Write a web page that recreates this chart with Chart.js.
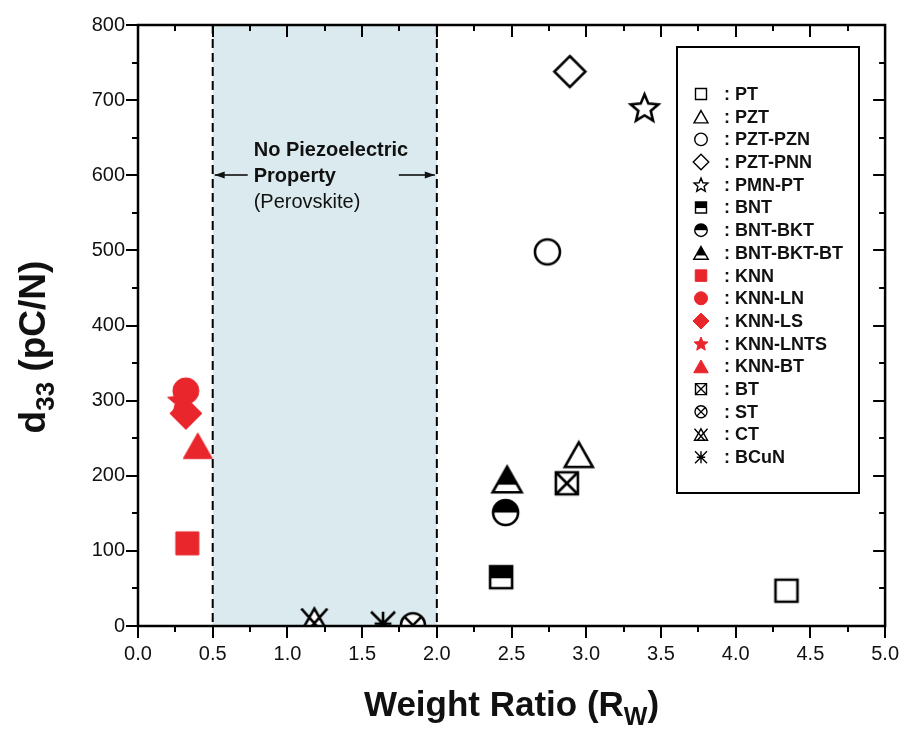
<!DOCTYPE html>
<html>
<head>
<meta charset="utf-8">
<script src="https://cdn.jsdelivr.net/npm/chart.js@4"></script>
<style>
  html, body { margin: 0; padding: 0; background: #fff; }
  #wrap { width: 915px; height: 752px; }
</style>
</head>
<body>
<div id="wrap"><canvas id="grafica" width="915" height="752"></canvas></div>
<script>
// Datos: material, relacion de peso (Rw) y d33 (pC/N).
const materials   = ['PT', 'PZT', 'PZT-PZN', 'PZT-PNN', 'PMN-PT', 'BNT', 'BNT-BKT', 'BNT-BKT-BT',
                     'KNN', 'KNN-LN', 'KNN-LS', 'KNN-LNTS', 'KNN-BT', 'BT', 'ST', 'CT', 'BCuN'];
const weightRatio = [4.34, 2.95, 2.74, 2.89, 3.39, 2.43, 2.46, 2.47,
                     0.33, 0.32, 0.32, 0.29, 0.40, 2.87, 1.84, 1.18, 1.64];
const d33         = [47, 228, 498, 738, 690, 65, 151, 195,
                     110, 313, 283, 300, 240, 190, 1, 8, 3];

// Zona sin propiedad piezoelectrica (perovskita).
const noPiezoRange = [0.5, 2.0];

// Ejes.
const xMin = 0, xMax = 5, xStep = 0.5, xMinor = 0.25;
const yMin = 0, yMax = 800, yStep = 100, yMinor = 50;

// Estilo de cada marcador (mismo orden que materials).
const RED = '#e8262c';
const markerKinds = ['sq', 'tri', 'circ', 'dia', 'star', 'sqHalf', 'circHalf', 'triHalf',
                     'sq', 'circ', 'dia', 'star', 'tri', 'sqX', 'circX', 'triX', 'ast'];
const markerFill  = [null, null, null, null, null, null, null, null,
                     RED, RED, RED, RED, RED, null, null, null, null];
const markerSize  = { sq: 22, tri: 28, circ: 25, dia: 31, star: 29, sqHalf: 22, circHalf: 25, triHalf: 29,
                      sqX: 22, circX: 24, triX: 26, ast: 24 };
const redSize     = { sq: 23, circ: 26, dia: 32, star: 29, tri: 29 };

const FONT = 'Arial, "Liberation Sans", Helvetica, sans-serif';

// Dibuja un simbolo centrado en (cx, cy) con ancho nominal s.
function drawSymbol(ctx, kind, cx, cy, s, lw, fill) {
    const r = s / 2;
    ctx.save();
    ctx.lineWidth = lw;
    ctx.strokeStyle = fill || '#000';
    ctx.lineJoin = 'miter';
    const path = new Path2D();
    const base = kind.replace('Half', '').replace('X', '');
    if (base === 'sq') {
        path.rect(cx - r, cy - r, s, s);
    } else if (base === 'tri') {
        const h = s * 0.88;
        path.moveTo(cx, cy - h / 2);
        path.lineTo(cx + r, cy + h / 2);
        path.lineTo(cx - r, cy + h / 2);
        path.closePath();
    } else if (base === 'circ') {
        path.arc(cx, cy, r, 0, Math.PI * 2);
    } else if (base === 'dia') {
        path.moveTo(cx, cy - r);
        path.lineTo(cx + r, cy);
        path.lineTo(cx, cy + r);
        path.lineTo(cx - r, cy);
        path.closePath();
    } else if (base === 'star') {
        const ri = r * 0.45;
        for (let i = 0; i < 10; i++) {
            const a = -Math.PI / 2 + i * Math.PI / 5;
            const rr = i % 2 === 0 ? r : ri;
            const px = cx + rr * Math.cos(a), py = cy + rr * Math.sin(a) + r * 0.08;
            if (i === 0) path.moveTo(px, py); else path.lineTo(px, py);
        }
        path.closePath();
    }

    if (kind === 'ast') {
        ctx.beginPath();
        ctx.moveTo(cx - r, cy - r); ctx.lineTo(cx + r, cy + r);
        ctx.moveTo(cx + r, cy - r); ctx.lineTo(cx - r, cy + r);
        ctx.moveTo(cx, cy - r); ctx.lineTo(cx, cy + r);
        ctx.moveTo(cx - r * 0.7, cy); ctx.lineTo(cx + r * 0.7, cy);
        ctx.stroke();
        ctx.restore();
        return;
    }

    if (fill) {
        ctx.fillStyle = fill;
        ctx.fill(path);
        ctx.stroke(path);
    } else {
        ctx.fillStyle = '#fff';
        ctx.fill(path);
        if (kind.endsWith('Half')) {
            // mitad superior rellena en negro
            ctx.save();
            ctx.clip(path);
            ctx.fillStyle = '#000';
            let cut = cy;
            if (kind === 'triHalf') cut = cy + s * 0.88 * 0.2;
            if (kind === 'sqHalf') cut = cy + s * 0.05;
            ctx.fillRect(cx - s, cy - s, 2 * s, cut - (cy - s));
            ctx.restore();
        }
        ctx.stroke(path);
        if (kind.endsWith('X')) {
            ctx.beginPath();
            if (kind === 'sqX') {
                ctx.moveTo(cx - r, cy - r); ctx.lineTo(cx + r, cy + r);
                ctx.moveTo(cx + r, cy - r); ctx.lineTo(cx - r, cy + r);
            } else if (kind === 'circX') {
                const k = r * 0.72;
                ctx.moveTo(cx - k, cy - k); ctx.lineTo(cx + k, cy + k);
                ctx.moveTo(cx + k, cy - k); ctx.lineTo(cx - k, cy + k);
            } else {
                const h = s * 0.88;
                ctx.moveTo(cx - r, cy - h / 2); ctx.lineTo(cx + r * 0.55, cy + h / 2);
                ctx.moveTo(cx + r, cy - h / 2); ctx.lineTo(cx - r * 0.55, cy + h / 2);
            }
            ctx.stroke();
        }
    }
    ctx.restore();
}

// Crea un canvas con el simbolo para usarlo como pointStyle.
function makeMarker(kind, s, lw, fill) {
    const c = document.createElement('canvas');
    const size = Math.ceil(s + lw * 2 + 4);
    c.width = size; c.height = size;
    drawSymbol(c.getContext('2d'), kind, size / 2, size / 2, s, lw, fill);
    return c;
}

function sizeFor(i) {
    const k = markerKinds[i];
    return markerFill[i] ? redSize[k] : markerSize[k];
}

const datasets = materials.map((m, i) => ({
    label: m,
    data: [{ x: weightRatio[i], y: d33[i] }],
    pointStyle: makeMarker(markerKinds[i], sizeFor(i), markerFill[i] ? 1 : 2.6, markerFill[i]),
    clip: 0
}));

// Zona sombreada, lineas discontinuas y anotacion.
const regionPlugin = {
    id: 'region',
    beforeDatasetsDraw(chart) {
        const ctx = chart.ctx;
        const { top, bottom } = chart.chartArea;
        const xs = chart.scales.x;
        const x0 = xs.getPixelForValue(noPiezoRange[0]);
        const x1 = xs.getPixelForValue(noPiezoRange[1]);
        ctx.save();
        ctx.fillStyle = '#daeaee';
        ctx.fillRect(x0, top, x1 - x0, bottom - top);
        ctx.strokeStyle = '#000';
        ctx.lineWidth = 2;
        ctx.setLineDash([9, 5]);
        [x0, x1].forEach(x => {
            ctx.beginPath();
            ctx.moveTo(x, top);
            ctx.lineTo(x, bottom);
            ctx.stroke();
        });
        ctx.setLineDash([]);

        // texto
        ctx.fillStyle = '#111';
        ctx.textBaseline = 'alphabetic';
        ctx.textAlign = 'left';
        const tx = x0 + 41;
        ctx.font = 'bold 20px ' + FONT;
        ctx.fillText('No Piezoelectric', tx, top + 131);
        ctx.fillText('Property', tx, top + 157);
        ctx.font = '20px ' + FONT;
        ctx.fillText('(Perovskite)', tx, top + 183);

        // flechas
        const ay = top + 150;
        const arrow = (xa, xb) => {
            ctx.lineWidth = 1.6;
            ctx.beginPath();
            ctx.moveTo(xa, ay);
            ctx.lineTo(xb, ay);
            ctx.stroke();
            const d = Math.sign(xb - xa);
            ctx.beginPath();
            ctx.moveTo(xb, ay);
            ctx.lineTo(xb - d * 10, ay - 3.5);
            ctx.lineTo(xb - d * 10, ay + 3.5);
            ctx.closePath();
            ctx.fill();
        };
        arrow(x0 + 35, x0 + 2);
        arrow(x1 - 38, x1 - 2);
        ctx.restore();
    }
};

// Marco, marcas de los ejes, titulos y leyenda.
const framePlugin = {
    id: 'frame',
    afterDatasetsDraw(chart) {
        const ctx = chart.ctx;
        const { left, right, top, bottom } = chart.chartArea;
        const xs = chart.scales.x, ys = chart.scales.y;
        ctx.save();
        ctx.strokeStyle = '#000';
        ctx.lineWidth = 2.5;
        ctx.strokeRect(left, top, right - left, bottom - top);

        ctx.lineWidth = 2;
        ctx.beginPath();
        for (let v = xMin; v <= xMax + 1e-9; v += xMinor) {
            const major = Math.abs(v / xStep - Math.round(v / xStep)) < 1e-6;
            const len = major ? 12 : 6;
            const px = Math.round(xs.getPixelForValue(v));
            ctx.moveTo(px, bottom); ctx.lineTo(px, bottom + len);
            ctx.moveTo(px, top); ctx.lineTo(px, top + len);
        }
        for (let v = yMin; v <= yMax + 1e-9; v += yMinor) {
            const major = Math.abs(v / yStep - Math.round(v / yStep)) < 1e-6;
            const len = major ? 12 : 6;
            const py = Math.round(ys.getPixelForValue(v));
            ctx.moveTo(left, py); ctx.lineTo(left - len, py);
            ctx.moveTo(right, py); ctx.lineTo(right - len, py);
        }
        ctx.stroke();

        // titulo eje x con subindice
        ctx.fillStyle = '#111';
        ctx.textBaseline = 'alphabetic';
        ctx.textAlign = 'left';
        let big = 'bold 35px ' + FONT, small = 'bold 25px ' + FONT;
        ctx.font = big;
        const p1 = 'Weight Ratio (R', p3 = ')';
        const w1 = ctx.measureText(p1).width, w3 = ctx.measureText(p3).width;
        ctx.font = small;
        const w2 = ctx.measureText('W').width;
        let xStart = (left + right) / 2 - (w1 + w2 + w3) / 2;
        const xBase = 716;
        ctx.font = big; ctx.fillText(p1, xStart, xBase);
        ctx.font = small; ctx.fillText('W', xStart + w1, xBase + 9);
        ctx.font = big; ctx.fillText(p3, xStart + w1 + w2, xBase);

        // titulo eje y con subindice
        big = 'bold 37px ' + FONT; small = 'bold 26px ' + FONT;
        ctx.save();
        ctx.translate(45, 347);
        ctx.rotate(-Math.PI / 2);
        ctx.font = big;
        const q1 = 'd', q3 = ' (pC/N)';
        const v1 = ctx.measureText(q1).width, v3 = ctx.measureText(q3).width;
        ctx.font = small;
        const v2 = ctx.measureText('33').width;
        let ys0 = -(v1 + v2 + v3) / 2;
        ctx.font = big; ctx.fillText(q1, ys0, 0);
        ctx.font = small; ctx.fillText('33', ys0 + v1, 9);
        ctx.font = big; ctx.fillText(q3, ys0 + v1 + v2, 0);
        ctx.restore();

        // leyenda
        const lx = 677, ly = 47, lw = 182, lh = 446;
        ctx.fillStyle = '#fff';
        ctx.fillRect(lx, ly, lw, lh);
        ctx.lineWidth = 2;
        ctx.strokeRect(lx, ly, lw, lh);
        ctx.font = 'bold 18px ' + FONT;
        ctx.textBaseline = 'middle';
        materials.forEach((m, i) => {
            const cy = 94 + i * 22.7;
            drawSymbol(ctx, markerKinds[i], 701, cy, sizeFor(i) * 0.5, markerFill[i] ? 1 : 1.4, markerFill[i]);
            ctx.fillStyle = '#111';
            ctx.fillText(': ' + m, 724, cy + 1);
        });
        ctx.restore();
    }
};

const ctx = document.getElementById('grafica').getContext('2d');
const chart = new Chart(ctx, {
    type: 'scatter',
    data: { datasets: datasets },
    options: {
        responsive: false,
        animation: false,
        layout: { padding: { top: 22, right: 29, left: 0, bottom: 0 } },
        plugins: { legend: { display: false }, tooltip: { enabled: false } },
        scales: {
            x: {
                type: 'linear', min: xMin, max: xMax,
                grid: { display: false, drawTicks: false },
                border: { display: false },
                ticks: {
                    stepSize: xStep, padding: 16, color: '#111',
                    font: { family: FONT, size: 20 },
                    callback: v => v.toFixed(1)
                },
                afterFit: s => { s.height = 126; }
            },
            y: {
                type: 'linear', min: yMin, max: yMax,
                grid: { display: false, drawTicks: false },
                border: { display: false },
                ticks: {
                    stepSize: yStep, padding: 13, color: '#111',
                    font: { family: FONT, size: 20 }
                },
                afterFit: s => { s.width = 138; }
            }
        }
    },
    plugins: [regionPlugin, framePlugin]
});
</script>
</body>
</html>
